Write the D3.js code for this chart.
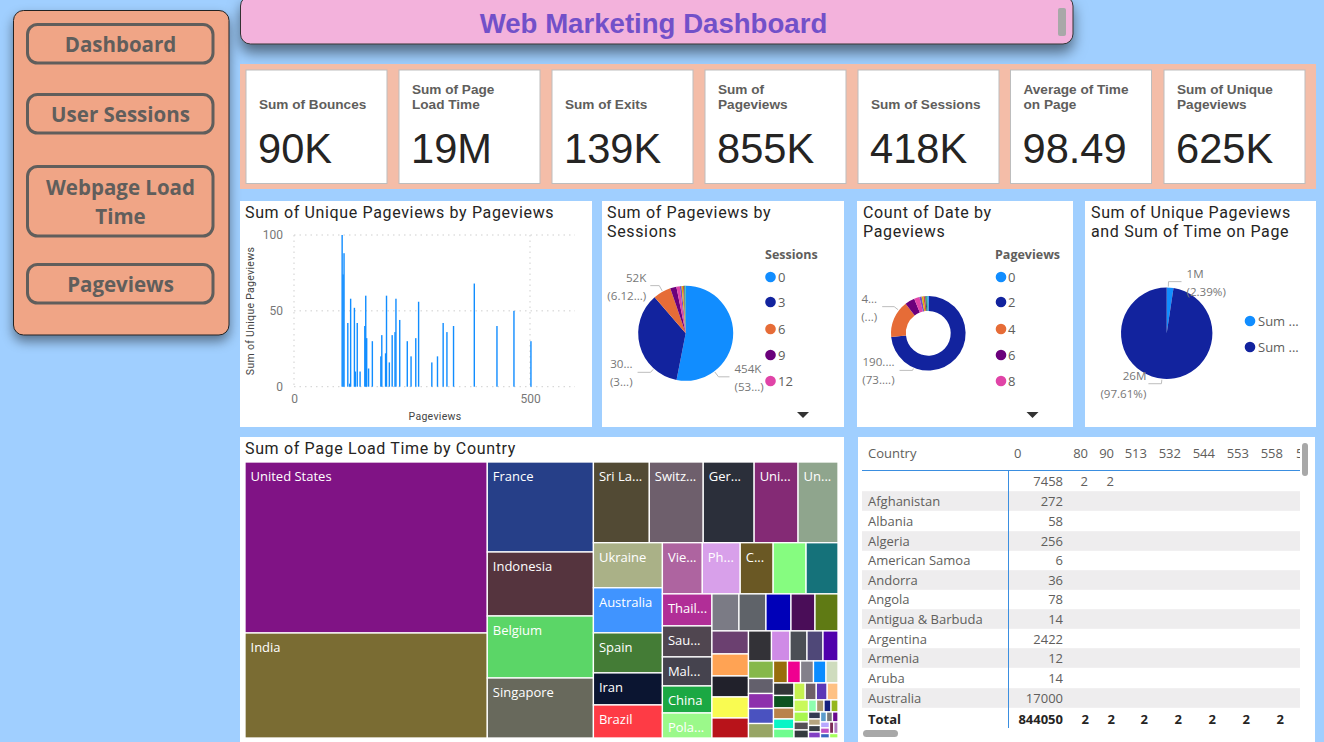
<!DOCTYPE html>
<html><head><meta charset="utf-8">
<script src="https://cdn.jsdelivr.net/npm/d3@7"></script>
<style>html,body{margin:0;padding:0;background:#a0cfff;overflow:hidden}svg{display:block}text{font-family:"Open Sans",sans-serif}</style>
</head><body><svg id="c" width="1324" height="742"></svg>
<script>
// ---------- data ----------
const navLabels = [["Dashboard"],["User Sessions"],["Webpage Load","Time"],["Pageviews"]];
const kpiLabels = [["Sum of Bounces"],["Sum of Page","Load Time"],["Sum of Exits"],["Sum of","Pageviews"],["Sum of Sessions"],["Average of Time","on Page"],["Sum of Unique","Pageviews"]];
const kpiValues = ["90K","19M","139K","855K","418K","98.49","625K"];

const barPageviews = [102,104,106,114,118,120,128,130,134,140,150,152,154,158,166,184,186,194,196,202,208,214,216,224,240,248,258,264,292,304,316,324,338,382,430,466,502];
const barUnique    = [100,74,88,42,2,58,52,10,42,10,40,60,32,12,30,20,34,22,60,16,34,36,58,44,30,20,32,56,16,20,42,36,40,68,40,50,30];

const palette = ["#118DFF","#12239E","#E66C37","#6B007B","#E044A7","#744EC2","#D9B300","#D64550","#197278","#1AAB40"];
const sessionKeys = ["0","3","6","9","12"];
const sessionValues = [454,304,52,18,10,5,4,3,2,2,1];
const dateKeys = ["0","2","4","6","8"];
const dateValues = [0.6,190,42,11,6,2.5,2,2,1.5,1,1];
const timeKeys = ["Sum ...","Sum ..."];
const timeValues = [2.39,97.61];

const tmStrips = [2,4,5,5,5,5,5,5,5,5,5,5,4,4,4,4,3,3,2,1];
const tmValues = [41382,25410, 9540,6784,6572,6360, 4508,4347,4105,3542,3220, 3105,3105,2760,2208,2277,
 2040,1938,1683,1683,1632, 1584,1535,1436,1337,1238, 999,999,925,888,851, 840,803,767,767,730,
 690,555,510,480,450, 438,375,375,375,362, 308,286,286,275,264, 256,256,226,205,185,
 190,187,185,183, 174,145,116,116, 96,90,84,84, 84,78,78,72, 60,60,55, 54,50,40, 49,49, 38];
const tmLabels = ["United States","India","France","Indonesia","Belgium","Singapore","Sri La...","Switz...","Ger...","Uni...","Un...",
 "Ukraine","Australia","Spain","Iran","Brazil","Vie...","Ph...","C...","","","Thail...","Sau...","Mal...","China","Pola..."];
const tmColors = ["#801385","#7a6c33","#263f88","#55343e","#5bd667","#68695c","#524a34","#6e5f6c","#2b2f3a","#842a75","#8fa58d",
 "#aab187","#4094ff","#447c36","#0b1531","#fe3b45","#ae64a0","#d8a0ea","#6a5824","#86fc80","#15727a",
 "#b12e97","#504650","#45434e","#1ba843","#9bf98a","#7b7b85","#5f6369","#0000b8","#4a0d58","#5f7a14",
 "#6b4070","#ffa354","#21212b","#f9fb51","#b8131a","#333237","#cf8be6","#4b4f55","#4f4878","#5000ac",
 "#86b84a","#63606c","#8e30ac","#4a52c0","#98a565","#986d0c","#ef0090","#83808a","#0a8cff","#cfdcbe",
 "#333538","#0c521f","#b9824b","#08f5c6","#6ffc8f","#c6f24f","#6e5f68","#5c38b6","#fec183",
 "#c9f95a","#a9f74f","#554f55","#333a3d","#8effb0","#a9986e","#15207e","#95b71d",
 "#333a50","#b5a47f","#373c45","#8240c4","#5c9ccc","#777777","#6a0a8f","#b7a6ff","#c04fc4","#3a66c0","#7a2b55","#b07ac0","#a5ff5c"];

const tableHeaders = ["80","90","513","532","544","553","558"];
const tableCountries = ["","Afghanistan","Albania","Algeria","American Samoa","Andorra","Angola","Antigua & Barbuda","Argentina","Armenia","Aruba","Australia"];
const tableZero = [7458,272,58,256,6,36,78,14,2422,12,14,17000];
const tableFirst = [2,2];
const tableTotals = [844050,2,2,2,2,2,2,2];

// ---------- helpers ----------
const svg = d3.select("#c");
const titleFont = "Roboto, sans-serif";
const defs = svg.append("defs");
function shadow(id,dy,sd,op){defs.append("filter").attr("id",id).attr("x","-20%").attr("y","-40%").attr("width","140%").attr("height","190%")
  .append("feDropShadow").attr("dx",0).attr("dy",dy).attr("stdDeviation",sd).attr("flood-color","#000").attr("flood-opacity",op);}
shadow("s1",6,6,.45); shadow("s2",8,7,.5);
function rect(x0,y0,x1,y1,fill){return svg.append("rect").attr("x",x0).attr("y",y0).attr("width",x1-x0).attr("height",y1-y0).attr("fill",fill);}
function txt(g,x,y,s,size,fill,anchor,weight,font){return g.append("text").attr("x",x).attr("y",y).text(s).attr("font-size",size).attr("fill",fill)
  .attr("text-anchor",anchor||"start").attr("font-weight",weight||400).style("font-family",font||null);}
function title(lines,x,y){lines.forEach((l,i)=>txt(svg,x,y+i*19,l,16,"#252423","start",400,titleFont).attr("letter-spacing",0.65));}

// ---------- nav ----------
rect(13.5,10.5,229,335,"#f0a586").attr("rx",10).attr("stroke","#222").attr("stroke-width",1).attr("filter","url(#s1)");
const navBoxes=[[24,63],[94,133],[166,236],[264,303]];
navLabels.forEach((ls,i)=>{const [a,b]=navBoxes[i];
  rect(27.5,a+.5,213,b,"none").attr("rx",10).attr("stroke","#605e5c").attr("stroke-width",3);
  const mid=(a+b)/2, h=29;
  ls.forEach((l,j)=>txt(svg,120.5,mid+8.5-(ls.length-1)*h/2+j*h,l,20.5,"#605e5c","middle",700));
});

// ---------- header ----------
rect(240.5,-4,1073,44,"#f3b2dc").attr("rx",10).attr("stroke","#333").attr("stroke-width",1).attr("filter","url(#s2)");
txt(svg,653.5,33,"Web Marketing Dashboard",27.6,"#7250c9","middle",700,"'Liberation Sans',sans-serif");
rect(1058,8,1066,36,"#a8a8a8").attr("rx",2);

// ---------- KPI ----------
rect(240,64,1316,189,"#f4bda8");
const cardX=[246,399,552,705,858,1010.5,1164];
kpiValues.forEach((v,i)=>{const x=cardX[i];
  rect(x,70,x+141,183.5,"#fff").attr("stroke","#bdbdbd").attr("stroke-width",1);
  const ls=kpiLabels[i];
  ls.forEach((l,j)=>txt(svg,x+13,(ls.length===1?109:94)+j*15,l,13.6,"#605e5c","start",700,"'Liberation Sans',sans-serif"));
  txt(svg,x+12,163,v,41.6,"#252423","start",400,"'Liberation Sans',sans-serif");
});

// ---------- panels ----------
[[240,201,592,427],[602,201,844,427],[857,201,1073,427],[1085,201,1316,427],[240,437,844,742],[858,437,1315,742]]
 .forEach(p=>rect(...p,"#fff"));

// ---------- bar chart ----------
title(["Sum of Unique Pageviews by Pageviews"],245,218);
const bx=d3.scaleLinear().domain([0,500]).range([294,530]);
const by=d3.scaleLinear().domain([0,100]).range([386.7,235]);
const grid=svg.append("g").attr("stroke","#cfcfcf").attr("stroke-dasharray","1.5 4").attr("stroke-width",1);
[0,50,100].forEach(v=>grid.append("line").attr("x1",294).attr("x2",575).attr("y1",by(v)).attr("y2",by(v)));
[0,500].forEach(v=>grid.append("line").attr("x1",bx(v)).attr("x2",bx(v)).attr("y1",235).attr("y2",387));
const gy=svg.append("g").attr("transform","translate(286,0)").call(d3.axisLeft(by).tickValues([0,50,100]).tickSize(0).tickPadding(3));
const gx=svg.append("g").attr("transform","translate(0,391)").call(d3.axisBottom(bx).tickValues([0,500]).tickSize(0).tickPadding(3));
[gy,gx].forEach(g=>{g.select(".domain").remove();g.selectAll("text").attr("font-size",12).attr("fill","#777").style("font-family","Roboto,sans-serif");});
svg.append("g").selectAll("rect").data(barPageviews).join("rect")
  .attr("x",d=>bx(d)-.7).attr("width",1.4).attr("y",(d,i)=>by(barUnique[i])).attr("height",(d,i)=>by(0)-by(barUnique[i])).attr("fill","#118DFF");
txt(svg,435,420,"Pageviews",10.5,"#444","middle",400,titleFont).attr("letter-spacing",.3);
txt(svg,0,0,"Sum of Unique Pageviews",10.5,"#444","middle",400,titleFont).attr("transform","translate(254,311) rotate(-90)").attr("letter-spacing",.3);

// ---------- pies ----------
function pie(cx,cy,r,inner,vals,colors){
  const p=d3.pie().sort(null).value(d=>d)(vals);
  const arc=d3.arc().innerRadius(inner).outerRadius(r);
  svg.append("g").attr("transform",`translate(${cx},${cy})`).selectAll("path").data(p).join("path")
    .attr("d",arc).attr("fill",(d,i)=>colors[i%colors.length]);
}
function leader(cx,cy,r,deg,out,run,lines,gap){
  const a=deg*Math.PI/180,s=Math.sin(a),c=-Math.cos(a);
  const p=[[cx+s*(r+1),cy+c*(r+1)],[cx+s*(r+out),cy+c*(r+out)]];
  p.push([p[1][0]+run,p[1][1]]);
  svg.append("path").attr("d",d3.line()(p)).attr("fill","none").attr("stroke","#bdbdbd").attr("stroke-width",1);
  const left=run>0;
  lines.forEach((l,i)=>txt(svg,p[2][0]+(left?gap:-gap),p[2][1]+(i===0?-4:14),l,11.6,"#777",left?"start":"end"));
}
function legend(name,x){ txt(svg,x,259,name,12.5,"#605e5c","start",700); }
function triangle(x,y){
  svg.append("path").attr("d",d3.symbol(d3.symbolTriangle,40)()).attr("transform",`translate(${x},${y}) rotate(180) scale(1.25,0.72)`).attr("fill","#333");
}
const legendYs=[277,302,329,355,381];
title(["Sum of Pageviews by","Sessions"],607,218);
pie(685.7,333.3,47.5,0,sessionValues,palette);
leader(685.7,333.3,47.5,143,7,11,["454K","(53...)"],5);
leader(685.7,333.3,47.5,222,5,-13,["30...","(3...)"],5);
leader(685.7,333.3,47.5,331,7,-9,["52K","(6.12...)"],4);
legend("Sessions",765);
sessionKeys.forEach((k,i)=>{svg.append("circle").attr("cx",770.5).attr("cy",legendYs[i]).attr("r",5.3).attr("fill",palette[i]);
  txt(svg,778,legendYs[i]+4.5,k,13,"#605e5c");});
triangle(803,414);

title(["Count of Date by","Pageviews"],863,218);
pie(928.3,333.3,37.3,22.4,dateValues,palette);
leader(928.3,333.3,37.3,203,3,-13,["190....","(73....)"],5);
leader(928.3,333.3,37.3,308,6,-12,["4...","(...)"],5);
legend("Pageviews",995);
dateKeys.forEach((k,i)=>{svg.append("circle").attr("cx",1001).attr("cy",legendYs[i]).attr("r",5.3).attr("fill",palette[i]);
  txt(svg,1008,legendYs[i]+4.5,k,13,"#605e5c");});
triangle(1032.5,414);

title(["Sum of Unique Pageviews","and Sum of Time on Page"],1091,218);
pie(1166.7,333.3,45.7,0,timeValues,palette);
leader(1166.7,333.3,45.7,2,6,13,["1M","(2.39%)"],5);
leader(1166.7,333.3,45.7,186,5,-13,["26M","(97.61%)"],2);
timeKeys.forEach((k,i)=>{const y=[321,347][i];svg.append("circle").attr("cx",1250).attr("cy",y).attr("r",5.3).attr("fill",palette[i]);
  txt(svg,1258,y+4.5,k,13,"#605e5c");});

// ---------- treemap ----------
title(["Sum of Page Load Time by Country"],245,454);
function buildTree(){
  let off=0;
  const strips=tmStrips.map((n,i)=>{const col=i<2||i%2===1;
    const kids=d3.range(n).map(j=>({value:tmValues[off+j],label:tmLabels[off+j]||"",color:tmColors[off+j]}));off+=n;
    return {dir:col?"y":"x",spine:col?"x":"y",children:kids};});
  let node=strips[strips.length-1];
  for(let i=strips.length-2;i>=0;i--){node={dir:strips[i].spine,children:[strips[i],node]};}
  return node;
}
const root=d3.hierarchy(buildTree()).sum(d=>d.children?0:d.value);
d3.treemap().size([593,276]).tile((n,a,b,c,d)=>(n.data.dir==="x"?d3.treemapDice:d3.treemapSlice)(n,a,b,c,d))(root);
const tg=svg.append("g").attr("transform","translate(245,462)");
const leaves=tg.selectAll("g").data(root.leaves()).join("g");
leaves.append("rect").attr("x",d=>d.x0).attr("y",d=>d.y0).attr("width",d=>d.x1-d.x0).attr("height",d=>d.y1-d.y0)
  .attr("fill",d=>d.data.color).attr("stroke","#fff").attr("stroke-width",1.3);
leaves.filter(d=>d.data.label).append("text").attr("x",d=>d.x0+5.5).attr("y",d=>d.y0+19).text(d=>d.data.label)
  .attr("font-size",13).attr("fill","#fff");

// ---------- table ----------
const rowY=[481,501,521,541,560,580,599,619,639,658,678,698];
const tg2=svg.append("g");
rowY.forEach((y,i)=>{if(i%2===1)tg2.append("rect").attr("x",862).attr("y",y-9.8).attr("width",438).attr("height",19.6).attr("fill","#eeedee");});
const tc="#605e5c", fs=13;
txt(tg2,868,458,"Country",fs,tc);
txt(tg2,1014,458,"0",fs,tc);
const colRight=[1088,1114,1147,1181,1215,1249,1283];
tableHeaders.forEach((h,i)=>txt(tg2,colRight[i],458,h,fs,tc,"end"));
txt(tg2,1296,458,"5",fs,tc);
rect(1300,445,1302,466,"#fff");
tg2.append("line").attr("x1",862).attr("x2",1300).attr("y1",470.5).attr("y2",470.5).attr("stroke","#3a8ee0");
svg.append("line").attr("x1",1008.5).attr("x2",1008.5).attr("y1",470.5).attr("y2",728).attr("stroke","#3a8ee0");
tableCountries.forEach((c,i)=>{
  txt(svg,868,rowY[i]+5,c,fs,tc);
  txt(svg,1063,rowY[i]+5,tableZero[i],fs,tc,"end");
});
tableFirst.forEach((v,i)=>txt(svg,colRight[i],rowY[0]+5,v,fs,tc,"end"));
txt(svg,868,724,"Total",fs,"#252423","start",700);
txt(svg,1063,724,tableTotals[0],fs,"#252423","end",700);
tableTotals.slice(1).forEach((v,i)=>txt(svg,colRight[i]+1,724,v,fs,"#252423","end",700));
rect(1302,443,1308,476,"#a8a8a8").attr("rx",3);
rect(863,730,898,737,"#a8a8a8").attr("rx",3.5);
</script></body></html>
